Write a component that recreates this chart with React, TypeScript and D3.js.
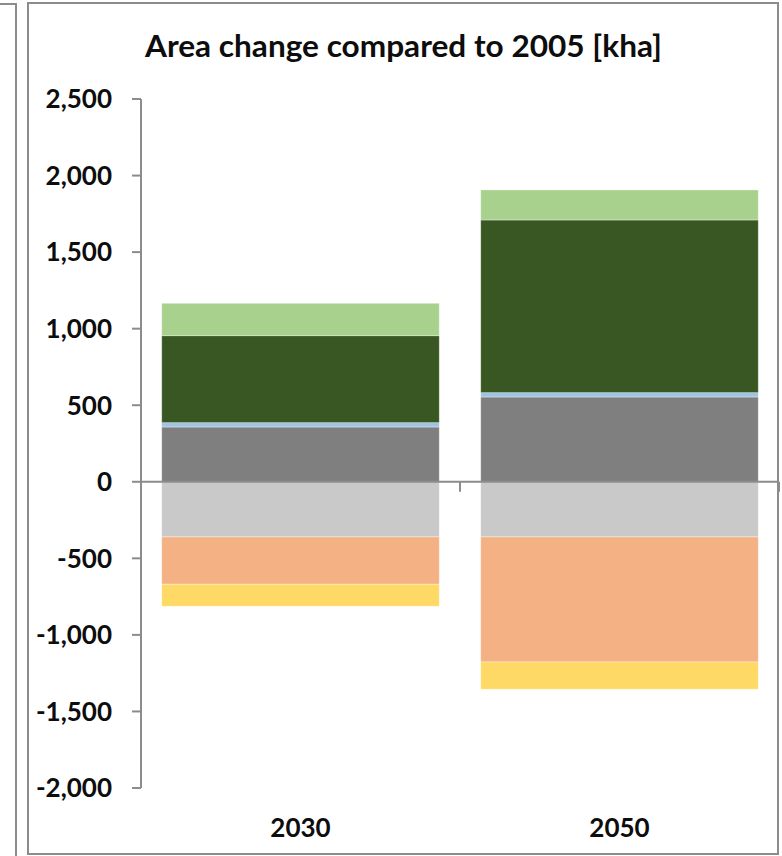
import React from "react";
import * as d3 from "d3";

const categories = ["2030", "2050"];
const seriesNames = ["Settlements", "Wetlands", "Forest", "Afforestation", "Grassland", "Cropland", "Other land"];
const seriesColors = ["#7F7F7F", "#9DC3E6", "#385723", "#A9D18E", "#C9C9C9", "#F4B183", "#FFD966"];
// values per series, [2030, 2050]
const settlements = [358, 554];
const wetlands = [28, 28];
const forest = [568, 1128];
const afforestation = [212, 196];
const grassland = [-360, -360];
const cropland = [-309, -817];
const otherLand = [-144, -178];
const yTicks = [-2000, -1500, -1000, -500, 0, 500, 1000, 1500, 2000, 2500];
const title = "Area change compared to 2005 [kha]";

const seriesValues = [settlements, wetlands, forest, afforestation, grassland, cropland, otherLand];

const W = 782;
const H = 856;
const FONT = "Lato, 'DejaVu Sans', sans-serif";

export default function App() {
  const x = d3.scaleBand<string>().domain(categories).range([141, 779]).paddingInner(0.13).paddingOuter(0.065);
  const y = d3.scaleLinear().domain([-2000, 2500]).range([788, 99]);
  const fmt = (v: number) => d3.format(",")(v).replace("\u2212", "-");

  const segs: { key: string; cat: string; y0: number; y1: number; color: string }[] = [];
  categories.forEach((cat, ci) => {
    let pos = 0;
    let neg = 0;
    seriesValues.forEach((vals, si) => {
      const v = vals[ci];
      if (v >= 0) {
        segs.push({ key: seriesNames[si] + cat, cat, y0: pos, y1: pos + v, color: seriesColors[si] });
        pos += v;
      } else {
        segs.push({ key: seriesNames[si] + cat, cat, y0: neg, y1: neg + v, color: seriesColors[si] });
        neg += v;
      }
    });
  });

  const y0px = y(0);
  const step = x.step();
  const catTicks = [141, ...categories.map((c) => (x(c) as number) + x.bandwidth() / 2 + step / 2)];

  return (
    <svg width={W} height={H} style={{ position: "absolute", left: 0, top: 0, background: "#fff" }}>
      {/* neighbouring chart frame (partial) */}
      <path d="M0,4 H16 V856" fill="none" stroke="#8c8c8c" strokeWidth={2} />
      {/* main frame */}
      <rect x={28} y={3} width={750} height={851} fill="#fff" stroke="#8c8c8c" strokeWidth={2} />
      <text x={403.5} y={57} textAnchor="middle" fontFamily={FONT} fontWeight="bold" fontSize={30} fill="#0d0d0d" textLength={517} lengthAdjust="spacingAndGlyphs">
        {title}
      </text>
      {segs.map((s) => (
        <rect
          key={s.key}
          x={x(s.cat)}
          width={x.bandwidth()}
          y={Math.min(y(s.y0), y(s.y1))}
          height={Math.abs(y(s.y1) - y(s.y0))}
          fill={s.color}
          stroke="#ffffff"
          strokeOpacity={0.45}
          strokeWidth={0.8}
        />
      ))}
      {/* y axis */}
      <line x1={141} x2={141} y1={y(2500)} y2={y(-2000)} stroke="#8c8c8c" strokeWidth={2} />
      {yTicks.map((t) => (
        <g key={t}>
          <line x1={132} x2={141} y1={y(t)} y2={y(t)} stroke="#8c8c8c" strokeWidth={2} />
          <text x={112} y={y(t)} dy="0.36em" textAnchor="end" fontFamily={FONT} fontWeight="bold" fontSize={26} fill="#0d0d0d">
            {fmt(t)}
          </text>
        </g>
      ))}
      {/* x axis at zero */}
      <line x1={141} x2={779} y1={y0px} y2={y0px} stroke="#8c8c8c" strokeWidth={2} />
      {catTicks.map((cx, i) => (
        <line key={i} x1={cx} x2={cx} y1={y0px} y2={y0px + 10} stroke="#8c8c8c" strokeWidth={2} />
      ))}
      {categories.map((c) => (
        <text key={c} x={(x(c) as number) + x.bandwidth() / 2} y={837} textAnchor="middle" fontFamily={FONT} fontWeight="bold" fontSize={26} fill="#0d0d0d">
          {c}
        </text>
      ))}
    </svg>
  );
}
